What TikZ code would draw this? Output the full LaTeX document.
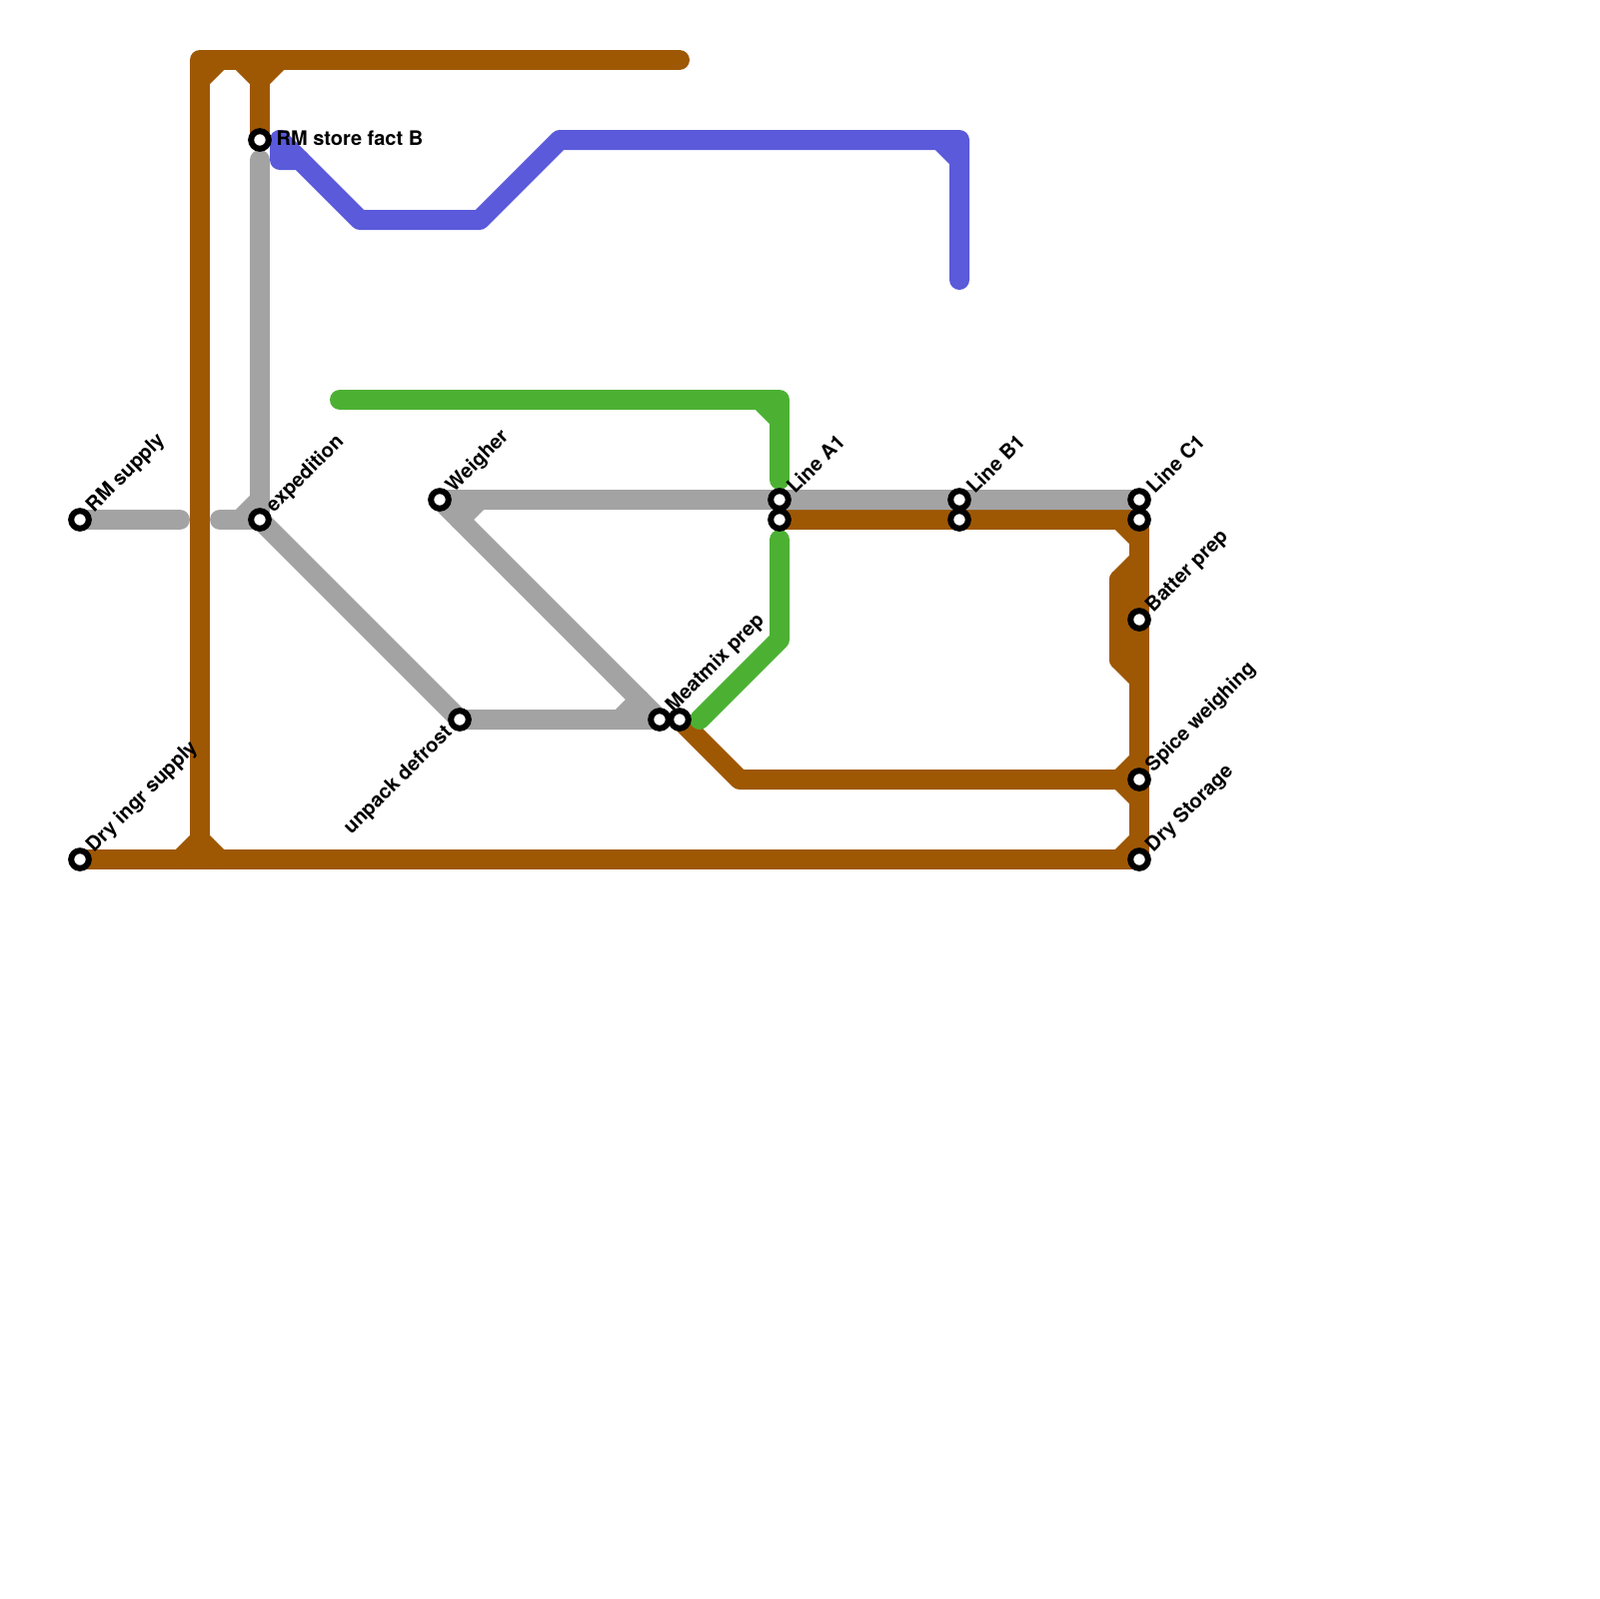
\documentclass[tikz,border=0pt]{standalone}
\usepackage{fontspec}
\setmainfont{TeX Gyre Heros}
\usetikzlibrary{backgrounds}
\definecolor{lineBrown}{RGB}{158,88,4}
\definecolor{lineGrey}{RGB}{163,163,163}
\definecolor{lineBlue}{RGB}{90,90,218}
\definecolor{lineGreen}{RGB}{76,177,51}
\begin{document}
\begin{tikzpicture}[
    x=0.1mm, y=-0.1mm,
    route/.style  = {line width=2mm, line cap=round, line join=round},
    rmeat/.style  = {route, draw=lineBrown},
    rgrey/.style  = {route, draw=lineGrey},
    rblue/.style  = {route, draw=lineBlue},
    rgreen/.style = {route, draw=lineGreen},
    stn/.style    = {circle, draw=black, fill=white, line width=0.6mm, minimum size=1.76mm, inner sep=0pt},
    lbl/.style    = {font=\fontsize{5.69}{7}\selectfont\bfseries, inner sep=0pt, text=black},
    slant/.style  = {lbl, rotate=45, anchor=west},
  ]
  \useasboundingbox (0,0) rectangle (1600,1600);

  % stations
  \foreach \n/\p in {rmsupply/{80,520}, expedition/{260,520}, rmstore/{260,140}, weigher/{440,500},
                     defrost/{460,720}, meatmix/{660,720}, meatout/{680,720}, lineA/{780,500}, lineAb/{780,520},
                     lineB/{960,500}, lineBb/{960,520}, lineC/{1140,500}, lineCb/{1140,520},
                     batter/{1140,620}, spice/{1140,780}, drystore/{1140,860}, dryingr/{80,860}}
    \node[stn] (\n) at (\p) {};

  % labels
  \foreach \n/\s in {rmsupply/RM supply, expedition/expedition, weigher/Weigher, meatmix/Meatmix prep,
                     lineA/Line A1, lineB/Line B1, lineC/Line C1, batter/Batter prep,
                     spice/Spice weighing, drystore/Dry Storage, dryingr/Dry ingr supply}
    \node[slant] (\n-label) at ([shift={(10,-10)}]\n.center) {\s};
  \node[lbl, anchor=west] (rmstore-label) at ([shift={(16,-2)}]rmstore.center) {RM store fact B};
  \node[lbl, rotate=45, anchor=east] (defrost-label) at ([shift={(-10,10)}]defrost.center) {unpack defrost};

  % bends and loose ends
  \foreach \n/\p in {topEnd/{680,60}, topLeft/{200,60}, leftBot/{200,860}, topMid/{260,60},
                     fa/{200,80}, fb/{220,60}, fc/{260,80}, fd/{240,60}, fe/{280,60},
                     ff/{200,840}, fg/{180,860}, fh/{220,860},
                     meatBendA/{740,780}, meatBendB/{1120,780},
                     fi/{1140,540}, fj/{1120,520}, fk/{1140,560}, fl/{1120,580}, fm/{1120,660}, fn/{1140,680},
                     fo/{1140,760}, fp/{1140,800}, fq/{1140,840}, fr/{1120,860},
                     supplyEnd/{180,520}, expLeft/{220,520}, expTop/{260,160}, ga/{240,520}, gb/{260,500},
                     gc/{460,520}, gd/{480,500}, ge/{620,720}, gf/{640,700},
                     blA/{280,140}, blB/{280,160}, blC/{300,160}, blD/{360,220}, blE/{480,220}, blF/{560,140},
                     blG/{960,140}, blH/{960,280}, blI/{940,140}, blJ/{960,160},
                     grA/{340,400}, grB/{780,400}, grC/{780,480}, grD/{760,400}, grE/{780,420},
                     grF/{780,540}, grG/{780,640}, grH/{700,720}}
    \coordinate (\n) at (\p);

  \begin{scope}[on background layer]
    \draw[rmeat] (topEnd) -- (topLeft) -- (leftBot);
    \draw[rmeat] (topMid) -- (rmstore.center);
    \draw[rmeat] (dryingr.center) -- (drystore.center);
    \draw[rmeat] (meatout.center) -- (meatBendA) -- (spice.center);
    \draw[rmeat] (lineAb.center) -- (lineBb.center) -- (lineCb.center) -- (drystore.center);
    \draw[rmeat] (fl) -- (fm);
    \foreach \a/\b in {fa/fb, fc/fd, fc/fe, ff/fg, ff/fh, fi/fj, fk/fl, fm/fn, fo/meatBendB, fp/meatBendB, fq/fr}
      \draw[rmeat] (\a) -- (\b);

    \draw[rgrey] (rmsupply.center) -- (supplyEnd);
    \draw[rgrey] (expLeft) -- (expedition.center) -- (expTop);
    \draw[rgrey] (expedition.center) -- (defrost.center) -- (meatmix.center);
    \draw[rgrey] (meatmix.center) -- (weigher.center) -- (lineA.center) -- (lineB.center) -- (lineC.center);
    \foreach \a/\b in {ga/gb, gc/gd, ge/gf}
      \draw[rgrey] (\a) -- (\b);

    \draw[rblue] (blA) -- (blB) -- (blC) -- (blD) -- (blE) -- (blF) -- (blG) -- (blH);
    \draw[rblue] (blA) -- (blC);
    \draw[rblue] (blI) -- (blJ);

    \draw[rgreen] (grA) -- (grB) -- (grC);
    \draw[rgreen] (grD) -- (grE);
    \draw[rgreen] (grF) -- (grG) -- (grH);
  \end{scope}
\end{tikzpicture}
\end{document}
